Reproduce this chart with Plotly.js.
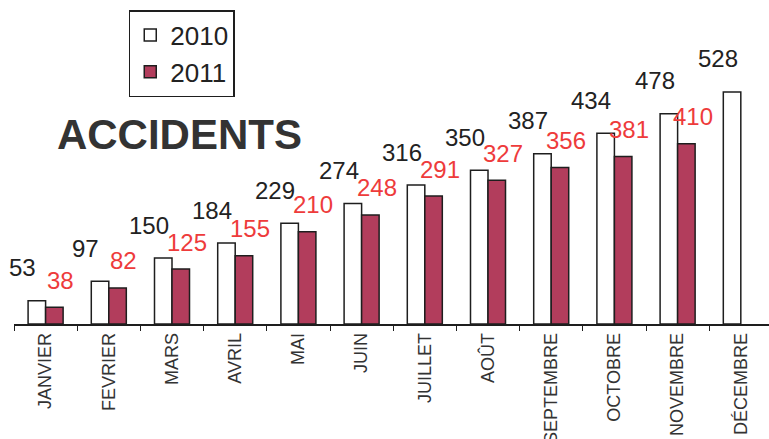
<!DOCTYPE html>
<html>
<head>
<meta charset="utf-8">
<script src="https://cdn.plot.ly/plotly-3.0.1.min.js"></script>
<style>
  html, body { margin: 0; padding: 0; background: #ffffff; }
  #chart { width: 769px; height: 439px; }
</style>
</head>
<body>
<div id="chart"></div>
<script>
const months = ["JANVIER", "FEVRIER", "MARS", "AVRIL", "MAI", "JUIN", "JUILLET", "AOÛT", "SEPTEMBRE", "OCTOBRE", "NOVEMBRE", "DÉCEMBRE"];
const values2010 = [53, 97, 150, 184, 229, 274, 316, 350, 387, 434, 478, 528];
const values2011 = [38, 82, 125, 155, 210, 248, 291, 327, 356, 381, 410, null];
const seriesNames = ["2010", "2011"];

const trace2010 = {
  type: "bar",
  name: seriesNames[0],
  x: months,
  y: values2010,
  marker: { color: "#ffffff", line: { color: "#1e1e1e", width: 1.5 } },
  hoverinfo: "x+y+name"
};
const trace2011 = {
  type: "bar",
  name: seriesNames[1],
  x: months,
  y: values2011,
  marker: { color: "#b23d5c", line: { color: "#1e1e1e", width: 1.5 } },
  hoverinfo: "x+y+name"
};

const labelFont = "Liberation Sans, Arial, sans-serif";
const annotations = [];
months.forEach(function (m, i) {
  if (values2010[i] != null) {
    annotations.push({
      x: m, y: values2010[i], xref: "x", yref: "y",
      text: String(values2010[i]), showarrow: false,
      xshift: -23, yshift: 33, yanchor: "middle", xanchor: "center",
      font: { family: labelFont, size: 24, color: "#222222" }
    });
  }
  if (values2011[i] != null) {
    annotations.push({
      x: m, y: values2011[i], xref: "x", yref: "y",
      text: String(values2011[i]), showarrow: false,
      xshift: 15, yshift: 27, yanchor: "middle", xanchor: "center",
      font: { family: labelFont, size: 24, color: "#ee3b3b" }
    });
  }
});

const layout = {
  width: 769,
  height: 439,
  margin: { l: 14, r: 0, t: 0, b: 115, pad: 0 },
  paper_bgcolor: "#ffffff",
  plot_bgcolor: "#ffffff",
  barmode: "group",
  bargap: 0.446,
  bargroupgap: 0,
  title: {
    text: "<b>ACCIDENTS</b>",
    font: { family: labelFont, size: 42, color: "#333333" },
    x: 0.074, xanchor: "left", xref: "container",
    y: 0.695, yanchor: "middle", yref: "container"
  },
  showlegend: true,
  legend: {
    x: 0.152, xanchor: "left", y: 0.969, yanchor: "top",
    bordercolor: "#1e1e1e", borderwidth: 1.5, bgcolor: "#ffffff",
    font: { family: labelFont, size: 26, color: "#222222" },
    traceorder: "normal", tracegroupgap: 0
  },
  xaxis: {
    type: "category",
    categoryorder: "array",
    categoryarray: months,
    range: [-0.5, 11.446],
    showline: true, linecolor: "#1e1e1e", linewidth: 1.5,
    ticks: "outside", tickson: "boundaries", ticklen: 5, tickcolor: "#1e1e1e", tickwidth: 1.2,
    tickangle: -90,
    tickfont: { family: labelFont, size: 18, color: "#333333" },
    showgrid: false, zeroline: false, fixedrange: true
  },
  yaxis: {
    range: [0, 737],
    visible: false, showgrid: false, zeroline: false, fixedrange: true
  },
  annotations: annotations
};

Plotly.newPlot("chart", [trace2010, trace2011], layout, { displayModeBar: false });
</script>
</body>
</html>
